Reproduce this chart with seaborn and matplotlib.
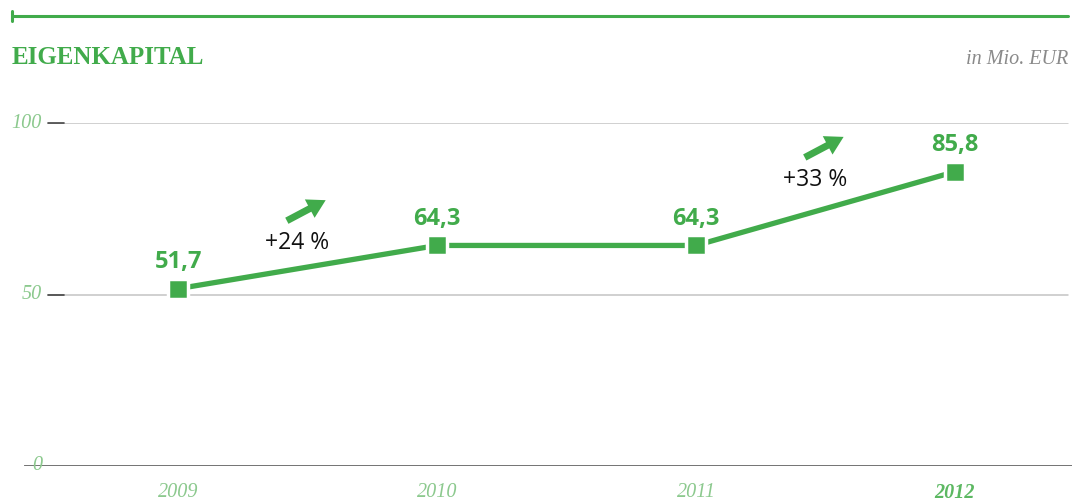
import matplotlib.pyplot as plt
import pandas as pd
import seaborn as sns

# Data
years = ['2009', '2010', '2011', '2012']
equity = [51.7, 64.3, 64.3, 85.8]
value_labels = ['51,7', '64,3', '64,3', '85,8']
y_ticks = [0, 50, 100]
growth_segments = [0, 2]          # start index of the segments annotated with growth
growth_label_lift = [7.0, 8.4]    # label height above segment midpoint

GREEN = '#41ab4b'
LIGHT_GREEN = '#8cc98e'

df = pd.DataFrame({'pos': range(len(years)), 'value': equity})

sns.set_style('white')
fig = plt.figure(figsize=(10.72, 5.01), dpi=100)
ax = fig.add_axes([24 / 1072, 35 / 501, 1048 / 1072, 343 / 501])

sns.lineplot(data=df, x='pos', y='value', ax=ax, color=GREEN, linewidth=3.8,
             marker='s', markersize=14, markeredgecolor='white', markeredgewidth=2.5,
             markerfacecolor=GREEN, zorder=5)

ax.set_xlim(-0.595, 3.452)
ax.set_ylim(0, 100)
for s in ax.spines.values():
    s.set_visible(False)
ax.set_xlabel('')
ax.set_ylabel('')

# grid lines and baseline
for t in y_ticks[1:]:
    ax.axhline(t, xmin=0.023, xmax=0.996, color='#c4c4c4', lw=1.1, zorder=1)
    ax.plot([-0.502, -0.44], [t, t], color='#444444', lw=1.2, clip_on=False, zorder=2)
ax.axhline(0, color='#666666', lw=2, zorder=2)

# ticks
ax.set_xticks(df['pos'])
ax.set_xticklabels(years)
ax.tick_params(axis='x', direction='out', length=7, width=1, color='#555555', pad=5)
ax.set_yticks([])
for i, lbl in enumerate(ax.get_xticklabels()):
    lbl.set_fontfamily('Liberation Serif')
    lbl.set_fontstyle('italic')
    lbl.set_fontsize(14.5)
    lbl.set_color(LIGHT_GREEN)
    if i == len(years) - 1:
        lbl.set_fontweight('bold')
        lbl.set_color('#5cb862')
for t in y_ticks:
    ax.text(-0.525, t, str(t), ha='right', va='center', fontsize=14.5,
            family='Liberation Serif', style='italic', color=LIGHT_GREEN)

# value labels
for i, (v, lbl) in enumerate(zip(equity, value_labels)):
    ax.text(i, v + 4.2, lbl, ha='center', va='bottom', fontsize=17, fontweight='bold',
            family='Open Sans', color=GREEN)

# growth arrows and labels
for i, lift in zip(growth_segments, growth_label_lift):
    pct = round((equity[i + 1] / equity[i] - 1) * 100)
    ly = (equity[i] + equity[i + 1]) / 2 + lift
    ax.text(i + 0.46, ly, f'+{pct} %', ha='center', va='center', fontsize=16.5,
            family='Open Sans', color='#111111')
    ax.annotate('', xy=(i + 0.57, ly + 12.5), xytext=(i + 0.42, ly + 6.5),
                arrowprops=dict(arrowstyle='simple,head_length=1.3,head_width=1.5,tail_width=0.5',
                                color=GREEN, lw=0, shrinkA=0, shrinkB=0))

# header
fig.add_artist(plt.Line2D([12 / 1072, 1068 / 1072], [1 - 16 / 501, 1 - 16 / 501], color=GREEN, lw=2.2))
fig.add_artist(plt.Line2D([12 / 1072, 12 / 1072], [1 - 11 / 501, 1 - 21 / 501], color=GREEN, lw=2.2))
fig.text(12 / 1072, 1 - 58 / 501, 'EIGENKAPITAL', ha='left', va='center', fontsize=18,
         fontweight='bold', family='Liberation Serif', color=GREEN)
fig.text(1068 / 1072, 1 - 60 / 501, 'in Mio. EUR', ha='right', va='center', fontsize=14.5,
         style='italic', family='Liberation Serif', color='#8a8a8a')

fig.savefig('out.png', dpi=100)
